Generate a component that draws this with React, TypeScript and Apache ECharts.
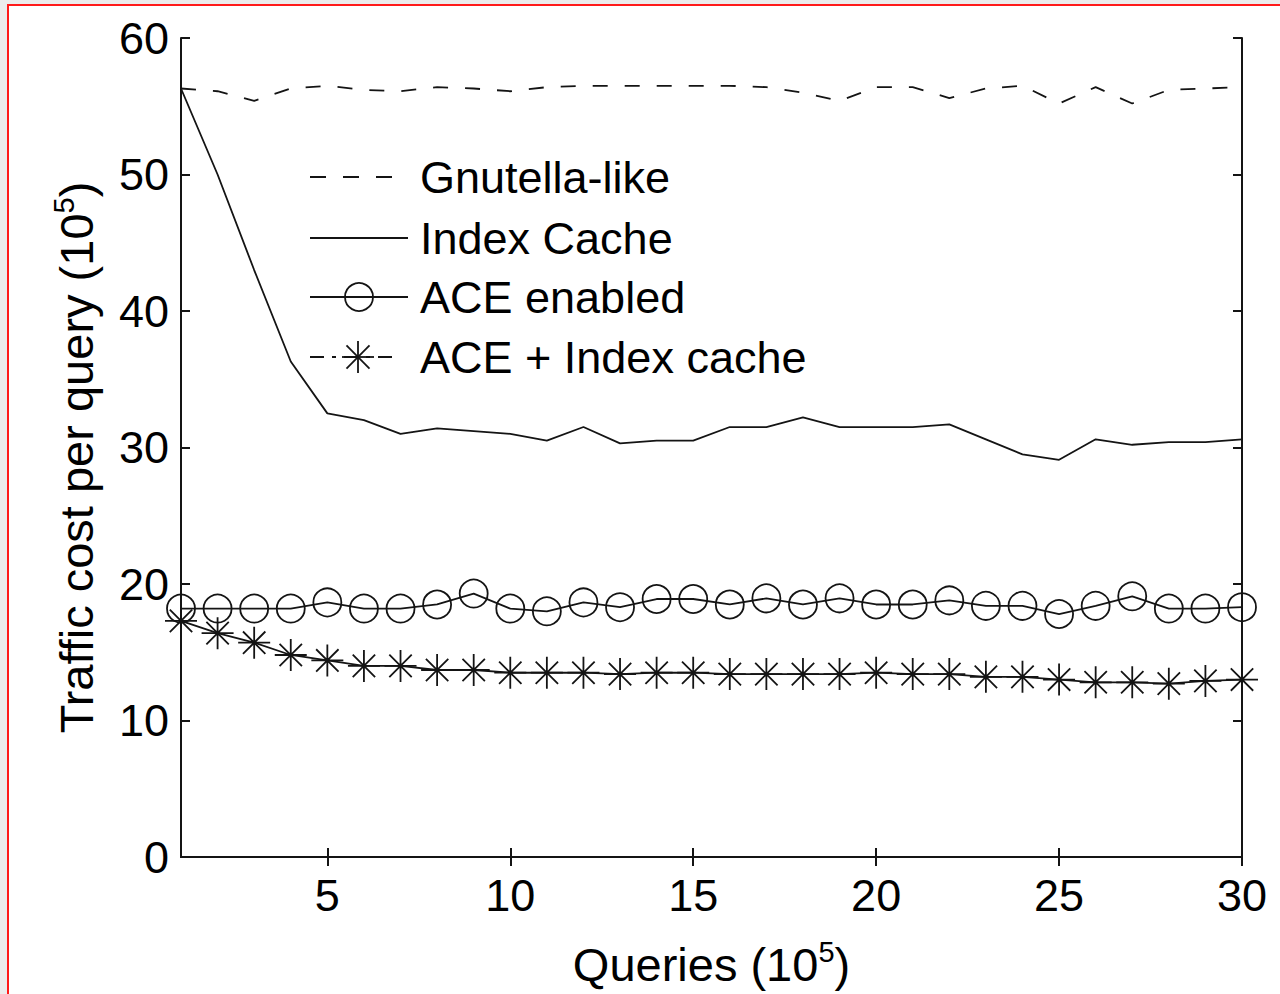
import React, { useEffect, useRef } from "react";
import * as echarts from "echarts";

// Number of queries issued (x 10^5)
const queries = [
  1, 2, 3, 4, 5, 6, 7, 8, 9, 10, 11, 12, 13, 14, 15,
  16, 17, 18, 19, 20, 21, 22, 23, 24, 25, 26, 27, 28, 29, 30,
];

// Traffic cost per query (x 10^5) for each scheme
const gnutellaLike = [
  56.3, 56.1, 55.4, 56.3, 56.5, 56.2, 56.1, 56.4, 56.3, 56.1,
  56.4, 56.5, 56.5, 56.5, 56.5, 56.5, 56.4, 56.0, 55.4, 56.4,
  56.4, 55.6, 56.3, 56.5, 55.2, 56.4, 55.2, 56.2, 56.3, 56.4,
];
const indexCache = [
  56.3, 50.0, 43.0, 36.3, 32.5, 32.0, 31.0, 31.4, 31.2, 31.0,
  30.5, 31.5, 30.3, 30.5, 30.5, 31.5, 31.5, 32.2, 31.5, 31.5,
  31.5, 31.7, 30.6, 29.5, 29.1, 30.6, 30.2, 30.4, 30.4, 30.6,
];
const aceEnabled = [
  18.2, 18.2, 18.2, 18.2, 18.65, 18.2, 18.2, 18.5, 19.3, 18.2,
  18.0, 18.65, 18.3, 18.9, 18.9, 18.5, 18.95, 18.5, 18.95, 18.5,
  18.5, 18.8, 18.4, 18.4, 17.8, 18.4, 19.1, 18.2, 18.2, 18.3,
];
const aceIndexCache = [
  17.3, 16.4, 15.7, 14.8, 14.4, 14.0, 14.0, 13.7, 13.7, 13.5,
  13.5, 13.5, 13.4, 13.5, 13.5, 13.4, 13.4, 13.4, 13.4, 13.5,
  13.4, 13.4, 13.2, 13.2, 13.0, 12.8, 12.8, 12.7, 12.9, 13.0,
];

const seriesNames = ["Gnutella-like", "Index Cache", "ACE enabled", "ACE + Index cache"];
const xTickValues = [5, 10, 15, 20, 25, 30];

const FONT = "'Liberation Sans', Arial, Helvetica, sans-serif";
const INK = "#141414";
const ASTERISK = "path://M10,0L10,20M0,10L20,10M3,3L17,17M3,17L17,3";

const pairs = (ys: number[]) => queries.map((q, i) => [q, ys[i]]);

// Legend glyph for the asterisk marker, built from four strokes
function asteriskGlyph(cx: number, cy: number, r: number) {
  const d = r * 0.72;
  const seg = (x1: number, y1: number, x2: number, y2: number) => ({
    type: "line",
    shape: { x1, y1, x2, y2 },
    style: { stroke: INK, lineWidth: 1.8 },
  });
  return [
    seg(cx, cy - r, cx, cy + r),
    seg(cx - r, cy, cx + r, cy),
    seg(cx - d, cy - d, cx + d, cy + d),
    seg(cx - d, cy + d, cx + d, cy - d),
  ];
}

const titleRich = {
  a: { fontFamily: FONT, fontSize: 47, color: "#000", lineHeight: 54 },
  s: { fontFamily: FONT, fontSize: 29, color: "#000", lineHeight: 26, verticalAlign: "top" },
};

export default function App() {
  const ref = useRef<HTMLDivElement>(null);

  useEffect(() => {
    if (!ref.current) return;
    const chart = echarts.init(ref.current, undefined, { renderer: "svg" });

    const rowY = [177, 238, 297, 357];
    const legendText = seriesNames.map((name, i) => ({
      type: "text",
      x: 420,
      y: rowY[i],
      style: {
        text: name,
        fontFamily: FONT,
        fontSize: 45,
        fill: "#000",
        verticalAlign: "middle",
        align: "left",
      },
    }));

    const frameAxis = {
      axisLine: { show: true, lineStyle: { color: INK, width: 2 } },
      splitLine: { show: false },
    };
    const innerTick = { show: true, inside: true, length: 9, lineStyle: { color: INK, width: 2 } };

    chart.setOption({
      animation: false,
      backgroundColor: "#ffffff",
      grid: { left: 181, right: 38, top: 38, bottom: 137, containLabel: false },
      xAxis: [
        {
          type: "value",
          min: 1,
          max: 30,
          position: "bottom",
          ...frameAxis,
          axisTick: { ...innerTick, customValues: xTickValues },
          axisLabel: {
            show: true,
            customValues: xTickValues,
            fontFamily: FONT,
            fontSize: 45,
            color: "#000",
            margin: 16,
          },
          name: "{a|Queries (10}{s|5}{a|)}",
          nameLocation: "middle",
          nameGap: 80,
          nameTextStyle: { rich: titleRich },
        },
        {
          type: "value",
          min: 1,
          max: 30,
          position: "top",
          ...frameAxis,
          axisTick: { ...innerTick, customValues: xTickValues },
          axisLabel: { show: false },
        },
      ],
      yAxis: [
        {
          type: "value",
          min: 0,
          max: 60,
          interval: 10,
          position: "left",
          ...frameAxis,
          axisTick: innerTick,
          axisLabel: { fontFamily: FONT, fontSize: 45, color: "#000", margin: 12 },
          name: "{a|Traffic cost per query (10}{s|5}{a|)}",
          nameLocation: "middle",
          nameRotate: 90,
          nameGap: 78,
          nameTextStyle: { rich: titleRich, padding: [0, 20, 0, 0] },
        },
        {
          type: "value",
          min: 0,
          max: 60,
          interval: 10,
          position: "right",
          ...frameAxis,
          axisTick: innerTick,
          axisLabel: { show: false },
        },
      ],
      series: [
        {
          name: seriesNames[0],
          type: "line",
          data: pairs(gnutellaLike),
          symbol: "none",
          lineStyle: { color: INK, width: 1.8, type: [15, 17] },
          clip: false,
          z: 3,
        },
        {
          name: seriesNames[1],
          type: "line",
          data: pairs(indexCache),
          symbol: "none",
          lineStyle: { color: INK, width: 1.8 },
          clip: false,
          z: 3,
        },
        {
          name: seriesNames[2],
          type: "line",
          data: pairs(aceEnabled),
          symbol: "circle",
          symbolSize: 28,
          lineStyle: { color: INK, width: 1.8 },
          itemStyle: { color: "rgba(0,0,0,0)", borderColor: INK, borderWidth: 1.8 },
          clip: false,
          z: 4,
        },
        {
          name: seriesNames[3],
          type: "line",
          data: pairs(aceIndexCache),
          symbol: ASTERISK,
          symbolSize: 32,
          lineStyle: { color: INK, width: 1.8 },
          itemStyle: { color: "none", borderColor: INK, borderWidth: 1.8 },
          clip: false,
          z: 4,
        },
      ],
      graphic: [
        // page frame
        { type: "rect", shape: { x: 0, y: 0, width: 8, height: 994 }, style: { fill: "#ececec" }, silent: true },
        { type: "rect", shape: { x: 0, y: 0, width: 1280, height: 4 }, style: { fill: "#ececec" }, silent: true },
        {
          type: "rect",
          shape: { x: 8, y: 5, width: 1300, height: 1010 },
          style: { fill: "none", stroke: "#ff1a1a", lineWidth: 2 },
          silent: true,
        },
        // legend samples
        { type: "line", shape: { x1: 310, y1: rowY[0], x2: 408, y2: rowY[0] }, style: { stroke: INK, lineWidth: 1.8, lineDash: [16, 17] } },
        { type: "line", shape: { x1: 310, y1: rowY[1], x2: 408, y2: rowY[1] }, style: { stroke: INK, lineWidth: 1.8 } },
        { type: "line", shape: { x1: 310, y1: rowY[2], x2: 408, y2: rowY[2] }, style: { stroke: INK, lineWidth: 1.8 } },
        { type: "circle", shape: { cx: 359, cy: rowY[2], r: 14 }, style: { fill: "none", stroke: INK, lineWidth: 1.8 } },
        { type: "line", shape: { x1: 310, y1: rowY[3], x2: 400, y2: rowY[3] }, style: { stroke: INK, lineWidth: 1.8, lineDash: [14, 8, 4, 8] } },
        ...asteriskGlyph(358, rowY[3], 16),
        ...legendText,
      ],
    });

    return () => chart.dispose();
  }, []);

  return (
    <div
      ref={ref}
      style={{ position: "absolute", left: 0, top: 0, width: 1280, height: 994, background: "#fff" }}
    />
  );
}
